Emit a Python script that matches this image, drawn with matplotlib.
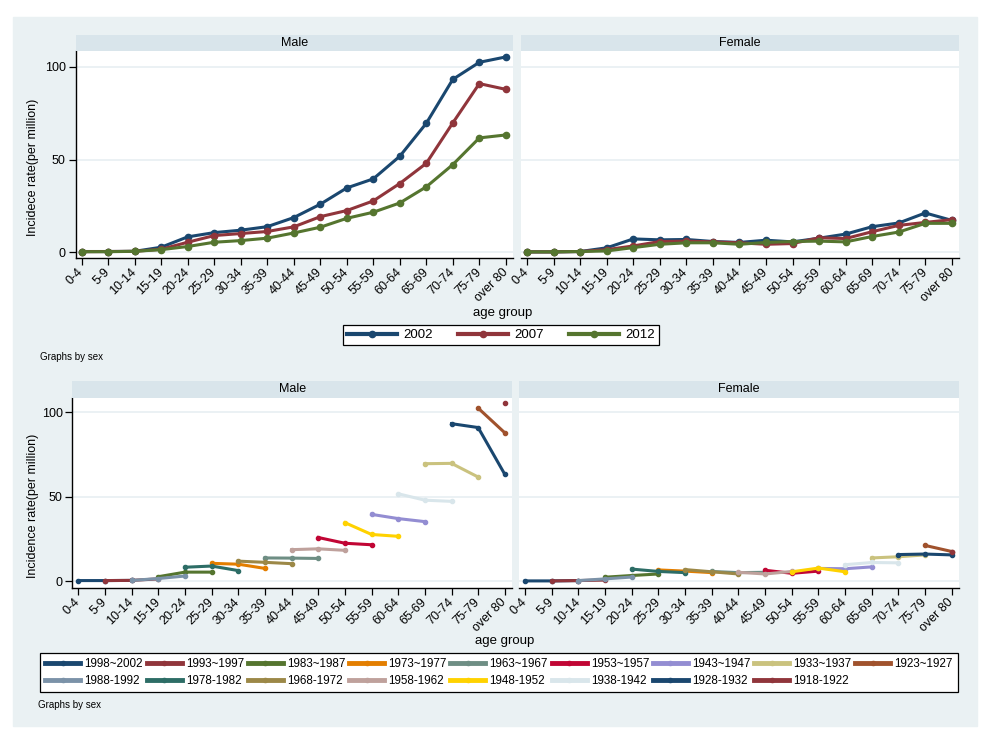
import numpy as np
import matplotlib.pyplot as plt
from matplotlib.patches import Rectangle

plt.rcParams['font.family'] = ['Liberation Sans', 'DejaVu Sans']

age_groups = ['0-4', '5-9', '10-14', '15-19', '20-24', '25-29', '30-34', '35-39',
              '40-44', '45-49', '50-54', '55-59', '60-64', '65-69', '70-74', '75-79', 'over 80']
years = ['2002', '2007', '2012']

# incidence per million, by survey year and age group
male_2002 = [0.4, 0.4, 0.5, 2.7, 8.3, 10.6, 11.9, 13.8, 18.7, 25.9, 34.7, 39.6, 51.8, 69.6, 93.3, 102.5, 105.4]
male_2007 = [0.3, 0.4, 0.5, 1.6, 5.4, 9.0, 10.1, 11.2, 13.7, 19.2, 22.5, 27.7, 37.1, 48.0, 69.8, 91.0, 87.9]
male_2012 = [0.3, 0.3, 0.5, 1.4, 3.1, 5.4, 6.3, 7.6, 10.4, 13.5, 18.3, 21.6, 26.6, 35.3, 47.3, 61.7, 63.3]
female_2002 = [0.2, 0.2, 0.4, 2.4, 7.2, 6.7, 6.9, 5.8, 5.3, 6.5, 5.6, 7.6, 9.8, 13.8, 15.8, 21.2, 17.2]
female_2007 = [0.2, 0.2, 0.4, 1.4, 3.4, 5.8, 6.0, 5.6, 5.1, 4.3, 4.7, 7.8, 7.4, 11.1, 14.5, 16.1, 17.6]
female_2012 = [0.2, 0.2, 0.4, 0.7, 2.5, 4.3, 5.1, 5.1, 4.3, 5.3, 5.8, 6.0, 5.6, 8.5, 10.9, 15.6, 15.6]

year_colors = ['#1A476F', '#90353B', '#55752F']

# birth cohorts (legend order) and their age group in 2002
cohort_labels = ['1998~2002', '1993~1997', '1983~1987', '1973~1977', '1963~1967', '1953~1957',
                 '1943~1947', '1933~1937', '1923~1927', '1988-1992', '1978-1982', '1968-1972',
                 '1958-1962', '1948-1952', '1938-1942', '1928-1932', '1918-1922']
cohort_age_2002 = [0, 1, 3, 5, 7, 9, 11, 13, 15, 2, 4, 6, 8, 10, 12, 14, 16]
cohort_colors = ['#1A476F', '#90353B', '#55752F', '#E37E00', '#6E8E84', '#C10534',
                 '#938DD2', '#CAC27E', '#A0522D', '#7B92A8', '#2D6D66', '#9C8847',
                 '#BFA19C', '#FFD200', '#D9E6EB', '#1A476F', '#90353B']

BG = '#EAF1F3'
STRIP = '#D9E5EB'
GRID = '#E8EFF2'
W, H = 1005, 738

fig = plt.figure(figsize=(W / 100, H / 100), dpi=100)
fig.patches.append(Rectangle((13 / W, 1 - 726 / H), 964 / W, 709 / H,
                             transform=fig.transFigure, color=BG, zorder=-10))


def px_axes(x0, y0, x1, y1, **kw):
    return fig.add_axes([x0 / W, 1 - y1 / H, (x1 - x0) / W, (y1 - y0) / H], **kw)


def strip(x0, y0, x1, y1, title):
    s = px_axes(x0, y0, x1, y1, facecolor=STRIP)
    s.set_xticks([])
    s.set_yticks([])
    for sp in s.spines.values():
        sp.set_visible(False)
    s.text(0.5, 0.5, title, ha='center', va='center', fontsize=9, transform=s.transAxes)


def style(ax, left, ylim):
    ax.set_xlim(-0.23, 16.27)
    ax.set_ylim(*ylim)
    ax.set_yticks([0, 50, 100])
    ax.grid(axis='y', color=GRID, lw=1.2)
    ax.set_axisbelow(True)
    ax.spines['top'].set_visible(False)
    ax.spines['right'].set_visible(False)
    ax.spines['bottom'].set_linewidth(1.0)
    ax.set_xticks(range(len(age_groups)))
    ax.set_xticklabels(age_groups, rotation=45, ha='right', va='center',
                       rotation_mode='anchor', fontsize=9)
    ax.tick_params(axis='x', length=5, width=0.9, pad=4)
    if left:
        ax.spines['left'].set_linewidth(1.0)
        ax.tick_params(axis='y', length=5, width=0.9, pad=2, labelsize=9)
    else:
        ax.spines['left'].set_visible(False)
        ax.tick_params(axis='y', length=0, labelleft=False)


# ---- top: by survey year ----
panels = [('Male', [male_2002, male_2007, male_2012]),
          ('Female', [female_2002, female_2007, female_2012])]
for i, (title, series) in enumerate(panels):
    x0, x1 = [(75.5, 513), (521, 959)][i]
    ax = px_axes(x0, 51, x1, 258, facecolor='white')
    strip(x0, 35, x1, 51, title)
    for vals, c, lab in zip(series, year_colors, years):
        ax.plot(range(len(vals)), vals, color=c, lw=2.2, marker='o', ms=4.5, label=lab)
    style(ax, i == 0, (-3.1, 108.6))
    if i == 0:
        h_top, l_top = ax.get_legend_handles_labels()

fig.text(33 / W, 1 - 167 / H, 'Incidece rate(per million)', rotation=90,
         ha='center', va='center', fontsize=9)
fig.text(503 / W, 1 - 313 / H, 'age group', ha='center', va='center', fontsize=9.5)
leg = fig.legend(h_top, l_top, loc='center', ncol=3, mode='expand',
                 bbox_to_anchor=(343 / W, 1 - 347 / H, 316 / W, 24 / H), borderaxespad=0,
                 fontsize=9.5, handlelength=3.8, handletextpad=0.5, columnspacing=1.6,
                 frameon=True, fancybox=False, edgecolor='black', framealpha=1,
                 borderpad=0.3)
leg.get_frame().set_linewidth(0.9)
for hl in leg.legend_handles:
    hl.set_linewidth(3)
fig.text(40 / W, 1 - 357 / H, 'Graphs by sex', ha='left', va='center', fontsize=7)

# ---- bottom: by birth cohort ----
period = {'Male': [male_2002, male_2007, male_2012],
          'Female': [female_2002, female_2007, female_2012]}
for i, title in enumerate(['Male', 'Female']):
    x0, x1 = [(72.3, 512), (519, 959)][i]
    ax = px_axes(x0, 398, x1, 588, facecolor='white')
    strip(x0, 381, x1, 398, title)
    for lab, a, c in zip(cohort_labels, cohort_age_2002, cohort_colors):
        xs, ys = [], []
        for k in range(3):
            if a + k < len(age_groups):
                xs.append(a + k)
                ys.append(period[title][k][a + k])
        ax.plot(xs, ys, color=c, lw=2.2, marker='o', ms=3, label=lab)
    style(ax, i == 0, (-4.0, 108.5))
    if i == 0:
        h_bot, l_bot = ax.get_legend_handles_labels()

fig.text(33 / W, 1 - 506 / H, 'Incidence rate(per million)', rotation=90,
         ha='center', va='center', fontsize=9)
fig.text(505 / W, 1 - 641 / H, 'age group', ha='center', va='center', fontsize=9.5)

# row-major legend order -> column-major handle list
order = []
for c in range(9):
    order.append(c)
    if c + 9 < len(h_bot):
        order.append(c + 9)
leg2 = fig.legend([h_bot[j] for j in order], [l_bot[j] for j in order], loc='center',
                  ncol=9, mode='expand',
                  bbox_to_anchor=(40 / W, 1 - 693 / H, 918 / W, 41 / H), borderaxespad=0,
                  fontsize=8.4, handlelength=3.0, handletextpad=0.35, columnspacing=0.1,
                  labelspacing=0.4, frameon=True, fancybox=False, edgecolor='black',
                  framealpha=1, borderpad=0.45)
leg2.get_frame().set_linewidth(0.9)
for hl in leg2.legend_handles:
    hl.set_linewidth(3.5)
fig.text(38 / W, 1 - 705 / H, 'Graphs by sex', ha='left', va='center', fontsize=7)

fig.savefig('out.png', dpi=100, facecolor='white')
